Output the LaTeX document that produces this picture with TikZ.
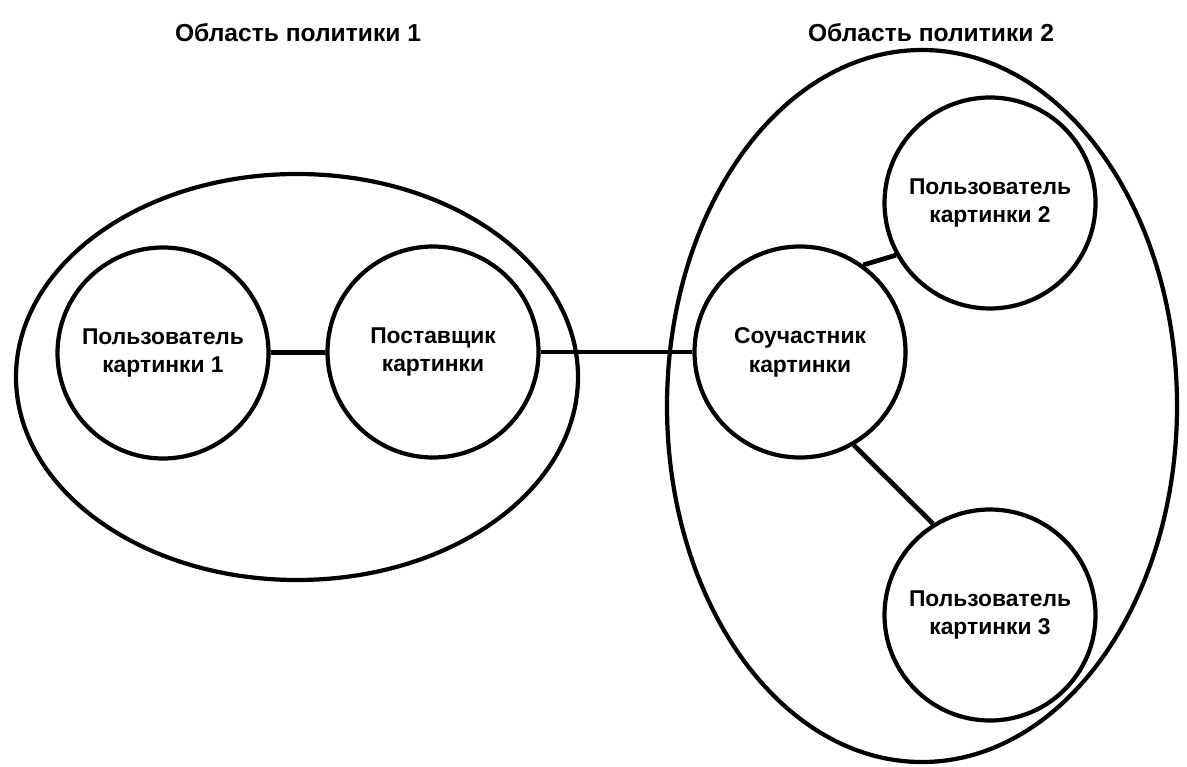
\documentclass[tikz,border=0pt]{standalone}
\usepackage{fontspec}
\setmainfont{Liberation Sans}
\usetikzlibrary{shapes.geometric}

\begin{document}
\begin{tikzpicture}[
        party/.style={circle, draw=black, line width=2.4pt, minimum size=4.22cm, inner sep=0pt, align=center, font=\fontsize{13}{16.4}\selectfont\bfseries},
        policyarea/.style={ellipse, draw=black, line width=2.4pt, inner sep=0pt},
        areatitle/.style={font=\fontsize{14}{16}\selectfont\bfseries},
        link/.style={black, line width=2.7pt}
    ]
        \useasboundingbox (0,0) rectangle (23.74,-15.34);

        \node[policyarea, minimum width=11.24cm, minimum height=8.12cm] (area1) at (5.94,-7.54) {};
        \node[policyarea, minimum width=10.2cm, minimum height=14.24cm] (area2) at (18.44,-8.12) {};

        \node[areatitle] (title1) at (5.96,-0.66) {Область политики 1};
        \node[areatitle] (title2) at (18.62,-0.66) {Область политики 2};

        \node[party] (user1) at (3.26,-7.06) {Пользователь\\картинки 1};
        \node[party] (supplier) at (8.66,-7.04) {Поставщик\\картинки};
        \node[party] (partner) at (16.0,-7.04) {Соучастник\\картинки};
        \node[party] (user2) at (19.8,-4.06) {Пользователь\\картинки 2};
        \node[party] (user3) at (19.8,-12.3) {Пользователь\\картинки 3};

        \draw[link] (user1) -- (supplier);
        \draw[link] (supplier) -- (partner);
        \draw[link] (partner.54) -- (user2.209);
        \draw[link] (partner.300) -- (user3.122);
    \end{tikzpicture}
\end{document}
